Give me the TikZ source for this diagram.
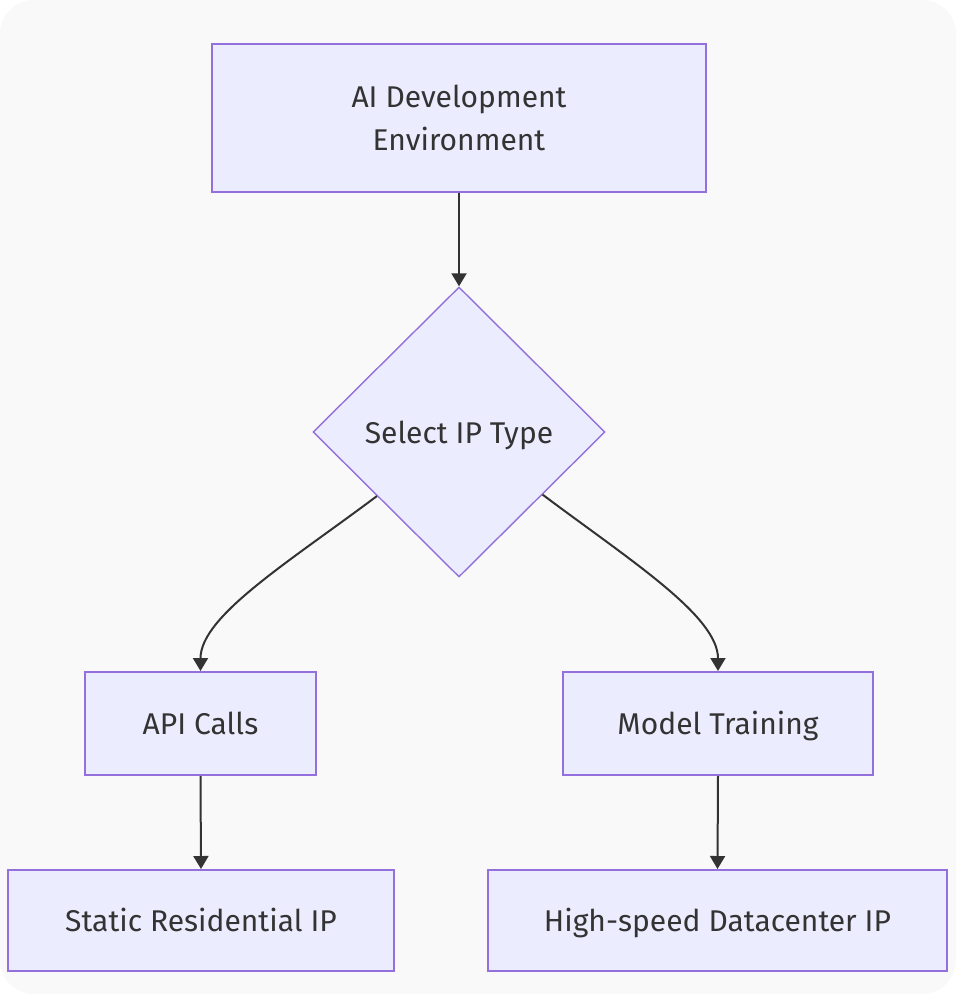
\documentclass[tikz,border=0pt]{standalone}
\usepackage{fontspec}
\setmainfont{Fira Sans}
\usetikzlibrary{shapes.geometric,arrows.meta,calc}
\definecolor{bgc}{HTML}{F9F9F9}
\definecolor{nodefill}{HTML}{ECECFF}
\definecolor{nodeline}{HTML}{9370DB}
\definecolor{edgec}{HTML}{333333}
\definecolor{textc}{HTML}{333333}
\begin{document}
\begin{tikzpicture}[x=1pt,y=-1pt,
  boxbase/.style={draw=nodeline,fill=nodefill,line width=2pt,inner sep=0pt,
    text=textc,font=\fontsize{30}{43}\selectfont,align=center},
  box/.style={boxbase,text height=22pt,text depth=0pt},
  decision/.style={diamond,draw=nodeline,fill=nodefill,line width=1.4pt,inner sep=0pt,
    aspect=1,minimum width=292pt,minimum height=290pt,
    text=textc,font=\fontsize{30}{43}\selectfont,text height=22pt,text depth=0pt},
  edge/.style={draw=edgec,line width=2pt,-{Triangle[length=13pt,width=15pt]}}]
\useasboundingbox (0,0) rectangle (956,994);
\fill[white] (0,0) rectangle (956,994);
\fill[bgc,rounded corners=34pt] (0,0) rectangle (956,994);

\node[boxbase,minimum width=494pt,minimum height=148pt] (env) at (459,117.5)
  {AI Development\\Environment};
\node[decision] (sel) at (459,432) {Select IP Type};
\node[box,minimum width=231pt,minimum height=103pt] (api) at (200.5,723.5) {API Calls};
\node[box,minimum width=310pt,minimum height=103pt] (train) at (718,723.5) {Model Training};
\node[box,minimum width=386pt,minimum height=101pt] (res) at (201,920.5) {Static Residential IP};
\node[box,minimum width=459pt,minimum height=101pt] (dc) at (717.5,920.5) {High-speed Datacenter IP};

\coordinate (sl) at ($(sel.west)!0.44!(sel.south)$);
\coordinate (sr) at ($(sel.east)!0.43!(sel.south)$);

\draw[edge] (env.south) -- (sel.north);
\draw[edge] (sl) .. controls ($(sl)+(-88,66)$) and ($(api.north)+(0,-55)$) .. (api.north);
\draw[edge] (sr) .. controls ($(sr)+(88,66)$) and ($(train.north)+(0,-55)$) .. (train.north);
\draw[edge] (api.south) -- (res.north);
\draw[edge] (train.south) -- (dc.north);
\end{tikzpicture}
\end{document}
